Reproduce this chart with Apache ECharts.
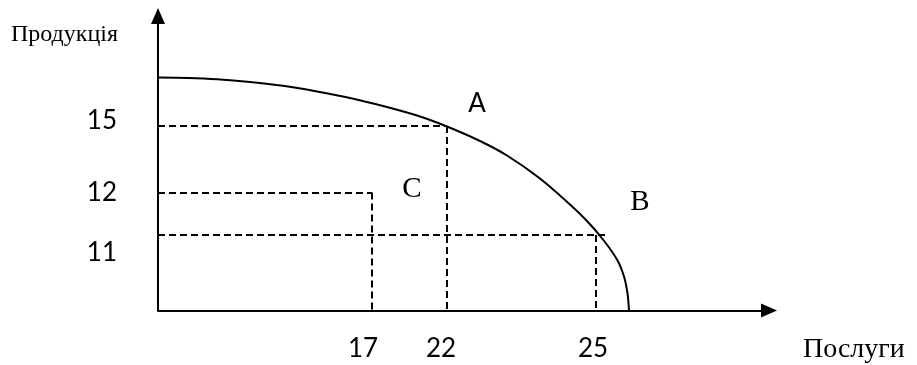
<!DOCTYPE html>
<html>
<head>
<meta charset="utf-8">
<script src="https://cdn.jsdelivr.net/npm/echarts@6/dist/echarts.min.js"></script>
<style>html,body{margin:0;padding:0;background:#fff}#c{width:917px;height:365px}</style>
</head>
<body>
<div id="c"></div>
<script>
// Schematic (not-to-scale) diagram coordinates
const curveX = [0, 30, 59, 92, 125, 159, 192, 225, 259, 289, 322, 349, 382, 412, 429, 445, 459, 466, 469.5, 471];
const curveY = [233, 232.5, 231.2, 228.5, 224.7, 219, 212.5, 204.5, 195, 184, 169.5, 155, 132, 106, 89.5, 71, 51, 34, 17, 0];

const guideNames = ['A', 'C', 'B'];
const guideX = [289, 214, 438];
const guideY = [184.5, 118, 75.5];
const guideHEnd = [289, 214, 449];

const xTicks = ['17', '22', '25'];
const xTickPos = [205, 283, 435];
const yTicks = ['15', '12', '11'];
const yTickPos = [189.5, 117.5, 57.5];

const letterNames = ['A', 'B', 'C'];
const letterStyle = ['sans', 'serif', 'serif'];
const letterX = [319, 482, 254];
const letterY = [206.5, 108, 121];

const xName = 'Послуги';
const yName = 'Продукція';

const curveData = curveX.map((x, i) => [x, curveY[i]]);
const guideLines = [];
guideNames.forEach((n, i) => {
  guideLines.push({ coords: [[0, guideY[i]], [guideHEnd[i], guideY[i]]] });
  guideLines.push({ coords: [[guideX[i], guideY[i]], [guideX[i], 0]] });
});
const letterData = letterNames.map((n, i) => ({ name: n, st: letterStyle[i], value: [letterX[i], letterY[i]] }));

const chart = echarts.init(document.getElementById('c'), null, { renderer: 'canvas' });
chart.setOption({
  animation: false,
  backgroundColor: '#fff',
  title: {
    text: xName, left: 803, top: 336, padding: 0,
    textStyle: { color: '#000', fontFamily: 'Liberation Serif', fontSize: 28, fontWeight: 'normal', lineHeight: 28 }
  },
  grid: { left: 158, right: 148, top: 16, bottom: 54.5 },
  xAxis: {
    type: 'value', min: 0, max: 611,
    splitLine: { show: false },
    axisTick: { show: false },
    axisLine: { lineStyle: { color: '#000', width: 2 }, symbol: ['none', 'triangle'], symbolSize: [14, 16] },
    axisLabel: {
      customValues: xTickPos,
      margin: 25,
      color: '#000', fontFamily: 'Lato', fontSize: 26,
      formatter: v => { const i = xTickPos.indexOf(v); return i >= 0 ? xTicks[i] : ''; }
    }
  },
  yAxis: {
    type: 'value', min: 0, max: 294.5,
    splitLine: { show: false },
    axisTick: { show: false },
    axisLine: { lineStyle: { color: '#000', width: 2 }, symbol: ['none', 'triangle'], symbolSize: [14, 16] },
    axisLabel: {
      customValues: yTickPos,
      margin: 41,
      color: '#000', fontFamily: 'Lato', fontSize: 26,
      formatter: v => { const i = yTickPos.indexOf(v); return i >= 0 ? yTicks[i] : ''; }
    },
    name: yName, nameLocation: 'end', nameGap: -19,
    nameTextStyle: { color: '#000', fontFamily: 'Liberation Serif', fontSize: 24, align: 'right', verticalAlign: 'middle', padding: [0, 40, 0, 0] }
  },
  series: [
    {
      type: 'line', data: curveData, smooth: 0.3, showSymbol: false,
      lineStyle: { color: '#000', width: 2 }
    },
    {
      type: 'lines', coordinateSystem: 'cartesian2d', data: guideLines,
      lineStyle: { color: '#000', width: 2, type: [7, 4], opacity: 1 }
    },
    {
      type: 'scatter', data: letterData, symbolSize: 1,
      itemStyle: { opacity: 0 },
      label: {
        show: true, position: 'inside', opacity: 1,
        formatter: p => (p.data.st === 'sans' ? '{s|' : '{r|') + p.name + '}',
        rich: {
          s: { fontFamily: 'Lato', fontSize: 26, color: '#000' },
          r: { fontFamily: 'Liberation Serif', fontSize: 29, color: '#000' }
        }
      }
    }
  ]
});
</script>
</body>
</html>
